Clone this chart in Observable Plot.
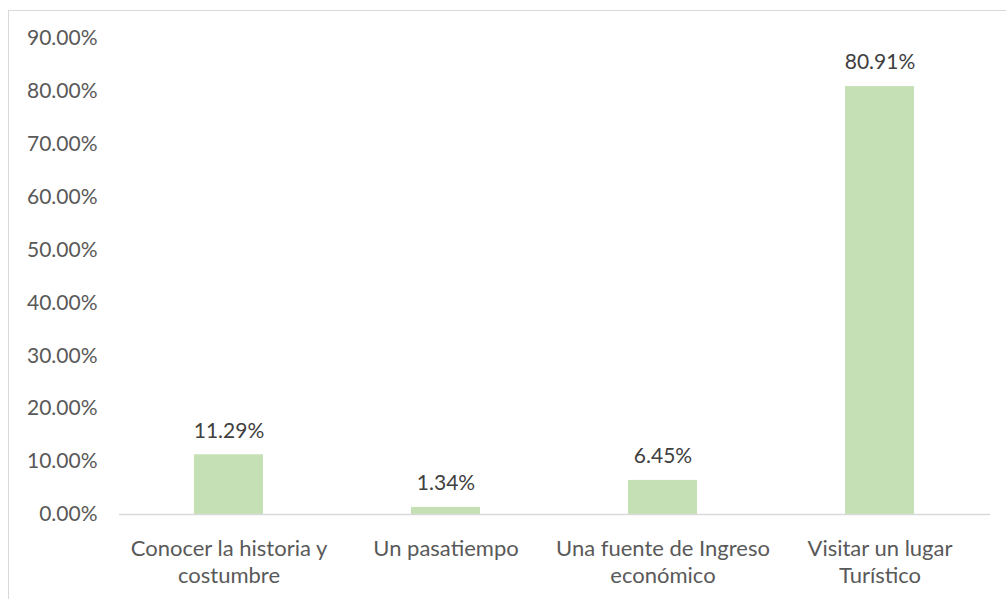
<!DOCTYPE html>
<html>
<head>
<meta charset="utf-8">
<script src="https://cdn.jsdelivr.net/npm/d3@7"></script>
<script src="https://cdn.jsdelivr.net/npm/@observablehq/plot@0.6"></script>
<style>
  html, body { margin: 0; padding: 0; background: #fff; overflow: hidden; }
  #wrap { position: relative; width: 1006px; height: 599px; }
  #frame { position: absolute; left: 8px; top: 10px; width: 1100px; height: 700px;
           border-top: 1px solid #d9d9d9; border-left: 1px solid #d9d9d9; pointer-events: none; }
  #chart { position: absolute; left: 0; top: 0; }
</style>
</head>
<body>
<div id="wrap"><div id="frame"></div><div id="chart"></div></div>
<script>
const categories = ["Conocer la historia y\ncostumbre", "Un pasatiempo", "Una fuente de Ingreso\neconómico", "Visitar un lugar\nTurístico"];
const values = [11.29, 1.34, 6.45, 80.91];
const yTicks = [0, 10, 20, 30, 40, 50, 60, 70, 80, 90];

const data = categories.map((c, i) => ({category: c, value: values[i]}));
const font = "Lato, 'Open Sans', sans-serif";

const chart = Plot.plot({
  width: 1006,
  height: 599,
  marginLeft: 119,
  marginRight: 16,
  marginTop: 38,
  marginBottom: 85,
  style: {fontFamily: font, background: "transparent"},
  x: {domain: categories, paddingInner: 0.68, paddingOuter: 0.34, label: null},
  y: {domain: [0, 90], label: null},
  marks: [
    Plot.barY(data, {x: "category", y: "value", fill: "#c5e0b4"}),
    Plot.ruleY([0], {stroke: "#d9d9d9", strokeWidth: 1.5}),
    Plot.text(data, {x: "category", y: "value", text: d => d.value.toFixed(2) + "%", dy: -24,
      fontSize: 21, fill: "#404040"}),
    Plot.axisX({tickSize: 0, tickPadding: 22, fontSize: 22, lineHeight: 1.23, color: "#595959", label: null}),
    Plot.axisY({ticks: yTicks, tickSize: 0, tickPadding: 22, fontSize: 21, color: "#595959",
      tickFormat: d => d.toFixed(2) + "%", label: null})
  ]
});
document.getElementById("chart").appendChild(chart);
</script>
</body>
</html>
